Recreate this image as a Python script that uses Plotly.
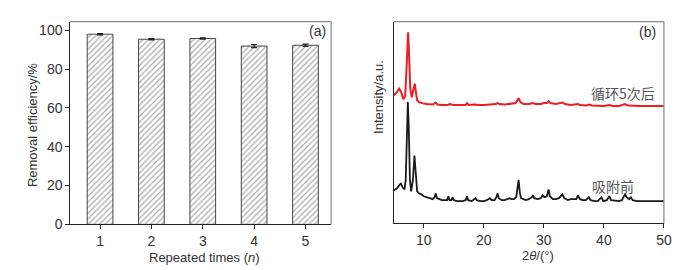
import plotly.graph_objects as go

# ---------- data ----------
repeat_n = [1, 2, 3, 4, 5]
removal_eff = [98.0, 95.4, 95.8, 91.9, 92.3]
removal_err = [0.3, 0.3, 0.3, 0.8, 0.6]

theta_before = [5.0, 5.5, 6.0, 6.2, 6.5, 6.8, 7.0, 7.2, 7.35, 7.5, 7.7, 7.9, 8.2, 8.45, 8.7, 8.9,
                9.2, 9.6, 10.0, 10.5, 11.0, 11.5, 11.8, 12.0, 12.2, 12.6, 13.0, 13.5, 13.9, 14.1,
                14.3, 14.6, 14.8, 15.0, 15.5, 16.0, 16.5, 17.0, 17.2, 17.4, 18.0, 18.6, 18.8, 19.5,
                20.0, 20.5, 21.0, 21.3, 21.8, 22.1, 22.3, 22.5, 23.0, 23.5, 24.0, 24.3, 24.6, 25.0,
                25.4, 25.6, 25.8, 26.0, 26.2, 26.6, 27.0, 27.5, 28.0, 28.2, 28.4, 29.0, 29.5, 29.8,
                30.1, 30.5, 30.8, 31.0, 31.5, 32.0, 32.5, 33.1, 33.4, 34.0, 34.5, 35.0, 35.4, 35.7,
                36.0, 36.5, 37.0, 37.5, 37.8, 38.5, 39.0, 39.6, 39.9, 40.5, 40.9, 41.2, 42.0, 42.5,
                43.0, 43.3, 43.5, 43.8, 44.2, 44.5, 44.8, 45.5, 46.0, 47.0, 48.0, 49.0, 50.0]
int_before = [34, 36, 40, 41, 37, 35, 45, 100, 125, 100, 45, 33, 45, 70, 45, 33,
              31, 30, 28, 27, 26, 25, 27, 31, 26, 25, 24, 24, 24, 28,
              24, 24, 27, 24, 23, 23, 23, 24, 28, 24, 23, 26, 24, 23,
              23, 24, 26, 24, 24, 27, 31, 26, 24, 24, 25, 26, 25, 25,
              27, 38, 45, 32, 26, 25, 24, 25, 27, 29, 26, 25, 26, 29,
              27, 28, 35, 28, 25, 25, 26, 30, 26, 24, 25, 25, 25, 29,
              25, 24, 24, 27, 24, 23, 23, 27, 23, 24, 28, 24, 23, 23,
              24, 28, 30, 27, 25, 27, 24, 23, 23, 23, 23, 23, 23]

theta_after = [5.0, 5.5, 5.9, 6.2, 6.6, 6.9, 7.1, 7.25, 7.4, 7.55, 7.75, 8.0, 8.25, 8.5, 8.7, 8.9,
               9.2, 9.6, 10.0, 10.5, 11.0, 11.5, 12.0, 12.3, 13.0, 14.0, 14.3, 15.0, 16.0, 17.0,
               17.2, 17.5, 18.5, 19.0, 20.0, 21.0, 22.0, 22.3, 22.6, 23.5, 24.5, 25.3, 25.6, 25.8,
               26.1, 26.6, 27.5, 28.2, 28.6, 29.5, 30.0, 30.5, 30.8, 31.1, 32.0, 33.1, 33.5, 34.5,
               35.7, 36.0, 37.0, 37.6, 38.0, 39.0, 40.0, 40.9, 41.5, 42.5, 43.5, 44.0, 45.0, 46.0,
               47.0, 48.0, 49.0, 50.0]
int_after = [132, 135, 139, 136, 128, 131, 155, 188, 197, 175, 140, 130, 136, 144, 135, 127,
             125, 124, 123.5, 123, 123, 122.5, 124.5, 122.5, 122, 122, 123, 122, 122, 122,
             124, 122, 122.5, 122, 122, 122.5, 123, 124, 123, 122.5, 123, 124, 127, 129,
             125, 123, 123, 124, 123, 123, 124, 124, 126, 124, 123, 124.5, 123, 122,
             123, 122, 121.5, 122.5, 121.5, 121, 121, 122, 121, 121, 123, 121.5, 121, 121,
             121, 121, 121, 121]

xrd_ticks = [10, 20, 30, 40, 50]
eff_ticks = [0, 20, 40, 60, 80, 100]

# ---------- layout helpers ----------
W, H = 682, 270
def px(x):
    return x / W
def py(y):
    return 1 - y / H

FONT = "Liberation Sans, Arial, sans-serif"
CJK = "Noto Sans CJK SC, sans-serif"

fig = go.Figure()

fig.add_trace(go.Bar(
    x=repeat_n, y=removal_eff, width=0.5,
    marker=dict(color="white", line=dict(color="#444", width=1),
                pattern=dict(shape="/", fgcolor="#555", bgcolor="white", size=4, solidity=0.3)),
    error_y=dict(type="data", array=removal_err, visible=True, color="#222", thickness=1.2, width=3),
    xaxis="x", yaxis="y", showlegend=False))

fig.add_trace(go.Scatter(x=theta_after, y=int_after, mode="lines",
                         line=dict(color="#ee1c25", width=2),
                         xaxis="x2", yaxis="y2", showlegend=False))
fig.add_trace(go.Scatter(x=theta_before, y=int_before, mode="lines",
                         line=dict(color="#1a1a1a", width=1.8),
                         xaxis="x2", yaxis="y2", showlegend=False))

axis_common = dict(showgrid=False, zeroline=False, showline=True, linecolor="#222", linewidth=1,
                   ticks="outside", ticklen=4, tickcolor="#222",
                   tickfont=dict(family=FONT, size=14, color="#333"))

fig.update_layout(
    width=W, height=H, margin=dict(l=0, r=0, t=0, b=0),
    paper_bgcolor="white", plot_bgcolor="white",
    xaxis=dict(domain=[px(63), px(327)], range=[0.42, 5.5], tickvals=repeat_n,
               anchor="y", **axis_common),
    yaxis=dict(domain=[py(223), py(14)], range=[0, 104.5], tickvals=eff_ticks,
               anchor="x", **axis_common),
    xaxis2=dict(domain=[px(390.3), px(663.7)], range=[5, 50], tickvals=xrd_ticks,
                anchor="y2", **axis_common),
    yaxis2=dict(domain=[py(222), py(14)], range=[0, 208], showticklabels=False,
                anchor="x2", showgrid=False, zeroline=False, showline=True,
                linecolor="#222", linewidth=1, ticks=""),
)

# top/right frame lines (grey)
for (x0, x1, y0, y1) in [(63, 327, 14, 14), (327, 327, 14, 223),
                         (390.3, 663.7, 14, 14), (663.7, 663.7, 14, 222)]:
    fig.add_shape(type="line", xref="paper", yref="paper",
                  x0=px(x0), x1=px(x1), y0=py(y0), y1=py(y1),
                  line=dict(color="#888", width=1.2))

def ann(text, x, y, size=14, color="#333", family=FONT, angle=0):
    fig.add_annotation(text=text, xref="paper", yref="paper", x=px(x), y=py(y),
                       showarrow=False, textangle=angle, xanchor="center", yanchor="middle",
                       font=dict(family=family, size=size, color=color))

ann("(a)", 313.5, 24)
ann("(b)", 647, 25)
ann("Removal efficiency/%", 25, 121, size=13, angle=-90)
ann("Repeated times (<i>n</i>)", 199, 257, size=13)
ann("Intensity/a.u.", 375, 92, size=13, angle=-90)
ann("2<i>θ</i>/(°)", 536, 255, size=13)
ann("循环5次后", 622, 88, size=14, color="#555", family=CJK)
ann("吸附前", 612, 183, size=14, color="#555", family=CJK)

fig.write_html("out.html")
